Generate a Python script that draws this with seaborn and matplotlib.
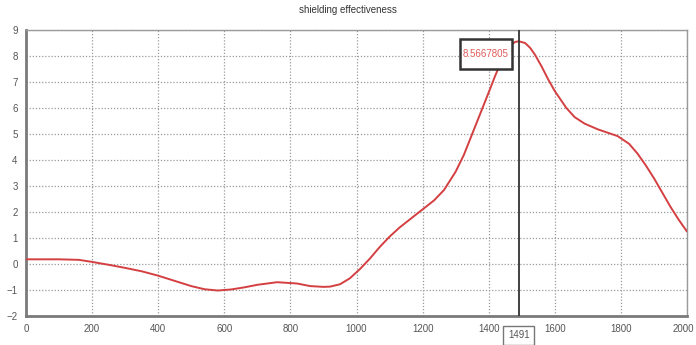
import matplotlib
matplotlib.use("Agg")
import matplotlib.pyplot as plt
import matplotlib.transforms as mtransforms
from matplotlib.patches import Rectangle
import seaborn as sns
import pandas as pd

# Frequency sweep and measured shielding effectiveness
freq = [0, 100, 160, 200, 250, 300, 350, 400, 450, 500, 540, 580, 620, 660,
        700, 760, 820, 860, 900, 920, 950, 980, 1010, 1040, 1070, 1100, 1130,
        1165, 1200, 1235, 1265, 1300, 1325, 1350, 1375, 1400, 1420, 1440, 1455,
        1470, 1480, 1491, 1510, 1525, 1540, 1560, 1580, 1600, 1635, 1660, 1690,
        1730, 1760, 1790, 1825, 1850, 1875, 1900, 1925, 1950, 1975, 2000]
se = [0.18, 0.18, 0.16, 0.08, -0.03, -0.15, -0.28, -0.45, -0.65, -0.85, -0.97,
      -1.02, -0.98, -0.90, -0.80, -0.70, -0.75, -0.85, -0.88, -0.87, -0.78,
      -0.55, -0.20, 0.20, 0.65, 1.05, 1.40, 1.75, 2.10, 2.45, 2.85, 3.55, 4.20,
      5.00, 5.80, 6.60, 7.25, 7.85, 8.20, 8.45, 8.54, 8.5667805, 8.50, 8.32,
      8.05, 7.60, 7.10, 6.65, 6.00, 5.65, 5.40, 5.18, 5.05, 4.92, 4.62, 4.25,
      3.80, 3.30, 2.75, 2.20, 1.70, 1.25]

marker_x = 1491
marker_y = 8.5667805
marker_label = "8.5667805"

x_ticks = [0, 200, 400, 600, 800, 1000, 1200, 1400, 1600, 1800, 2000]
y_ticks = list(range(-2, 10))
title = "shielding effectiveness"

df = pd.DataFrame({"freq": freq, "se": se})

sns.set_style("white")
plt.rcParams["font.family"] = ["Liberation Sans", "DejaVu Sans"]

fig = plt.figure(figsize=(6.96, 3.45), dpi=100)
ax = fig.add_axes([26 / 696, 1 - 316 / 345, (687 - 26) / 696, (316 - 30) / 345])

sns.lineplot(data=df, x="freq", y="se", ax=ax, color="#d43f41", linewidth=1.4,
             zorder=3)

ax.set_xlim(0, 2000)
ax.set_ylim(-2, 9)
ax.set_xticks(x_ticks)
ax.set_yticks(y_ticks)
ax.set_xlabel("")
ax.set_ylabel("")

ax.grid(True, color="#9a9a9a", linestyle=(0, (1, 1.5)), linewidth=0.9)
ax.set_axisbelow(True)

for side in ("left", "bottom"):
    ax.spines[side].set_color("#7a7a7a")
    ax.spines[side].set_linewidth(2.0)
for side in ("top", "right"):
    ax.spines[side].set_color("#9a9a9a")
    ax.spines[side].set_linewidth(1.0)

ax.tick_params(axis="both", length=3, width=1.5, color="#7a7a7a",
               labelcolor="#555555", labelsize=7, pad=3)

# Keep the last x label inside the figure edge
last = ax.get_xticklabels()[-1]
last.set_transform(last.get_transform() +
                   mtransforms.ScaledTranslation(-3 / 72, 0, fig.dpi_scale_trans))

# Cursor line at the peak
ax.axvline(marker_x, color="#333333", linewidth=1.3, zorder=4)

# Peak value readout in a framed box left of the cursor
ax.add_patch(Rectangle((1313, 7.5), 157, 1.16, facecolor="white",
                       edgecolor="#333333", linewidth=1.8, zorder=5))
ax.text(1391.5, 8.08, marker_label, color="#e05a5a", fontsize=7,
        ha="center", va="center", zorder=6)

# Cursor position readout under the axis
ax.text(marker_x, -2.75, str(marker_x), color="#555555", fontsize=7,
        ha="center", va="center", zorder=5, clip_on=False,
        bbox=dict(boxstyle="square,pad=0.5", facecolor="white",
                  edgecolor="#777777", linewidth=1.0))

fig.suptitle(title, x=0.5, y=0.985, fontsize=7, color="#333333", va="top")

fig.savefig("out.png", dpi=100)
